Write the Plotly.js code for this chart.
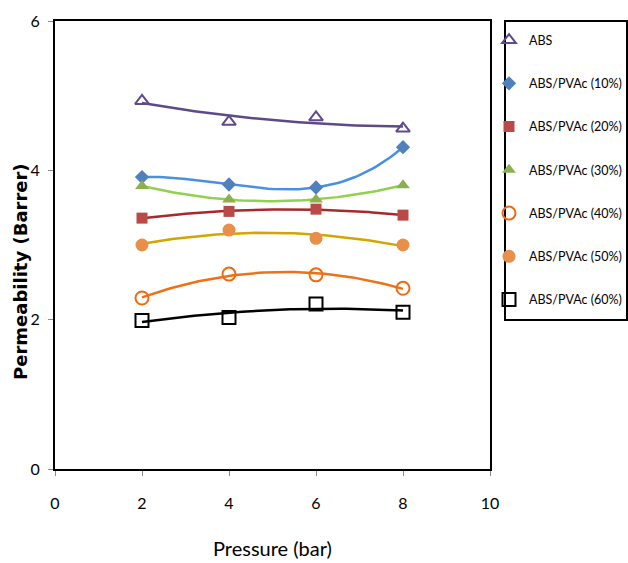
<!DOCTYPE html>
<html>
<head>
<meta charset="utf-8">
<script src="https://cdn.plot.ly/plotly-3.0.1.min.js"></script>
<style>html,body{margin:0;padding:0;background:#fff;}#chart{width:628px;height:563px;}</style>
</head>
<body>
<div id="chart"></div>
<script>
// ---- data ----
var pressure = [2, 4, 6, 8];
var seriesNames = ['ABS', 'ABS/PVAc (10%)', 'ABS/PVAc (20%)', 'ABS/PVAc (30%)', 'ABS/PVAc (40%)', 'ABS/PVAc (50%)', 'ABS/PVAc (60%)'];
var absVals   = [4.93, 4.65, 4.71, 4.56];
var pvac10    = [3.91, 3.81, 3.77, 4.31];
var pvac20    = [3.36, 3.45, 3.48, 3.40];
var pvac30    = [3.79, 3.61, 3.61, 3.80];
var pvac40    = [2.29, 2.61, 2.60, 2.42];
var pvac50    = [3.00, 3.20, 3.09, 3.00];
var pvac60    = [1.99, 2.03, 2.21, 2.10];
var xTicks = [0, 2, 4, 6, 8, 10];
var yTicks = [0, 2, 4, 6];

// ---- styles ----
var values = [absVals, pvac10, pvac20, pvac30, pvac40, pvac50, pvac60];
var trendOrder = [2, 3, 2, 2, 2, 2, 2];
var markerStyles = [
  {symbol: 'triangle-up-open', size: 12, color: '#604A8B', line: {width: 2, color: '#604A8B'}},
  {symbol: 'diamond', size: 11, color: '#4F81BD'},
  {symbol: 'square', size: 11, color: '#B94A48'},
  {symbol: 'triangle-up', size: 12, color: '#8DB04F'},
  {symbol: 'circle-open', size: 13, color: '#F06A10', line: {width: 2, color: '#F06A10'}},
  {symbol: 'circle', size: 13, color: '#E8904A'},
  {symbol: 'square-open', size: 13, color: '#000000', line: {width: 2, color: '#000000'}}
];
var lineColors = ['#5E4A87', '#4A90E0', '#A52A2A', '#92D050', '#F07018', '#D4A500', '#000000'];

// polynomial least squares trendline
function polyfit(xs, ys, n) {
  var m = n + 1, A = [], b = [];
  for (var i = 0; i < m; i++) {
    A.push([]); b.push(0);
    for (var j = 0; j < m; j++) {
      var s = 0;
      for (var k = 0; k < xs.length; k++) s += Math.pow(xs[k], i + j);
      A[i].push(s);
    }
    for (var k2 = 0; k2 < xs.length; k2++) b[i] += ys[k2] * Math.pow(xs[k2], i);
  }
  for (var c = 0; c < m; c++) {
    var p = c;
    for (var r = c + 1; r < m; r++) if (Math.abs(A[r][c]) > Math.abs(A[p][c])) p = r;
    var t = A[c]; A[c] = A[p]; A[p] = t; var tb = b[c]; b[c] = b[p]; b[p] = tb;
    for (var r2 = c + 1; r2 < m; r2++) {
      var f = A[r2][c] / A[c][c];
      for (var cc = c; cc < m; cc++) A[r2][cc] -= f * A[c][cc];
      b[r2] -= f * b[c];
    }
  }
  var coef = new Array(m);
  for (var r3 = m - 1; r3 >= 0; r3--) {
    var s2 = b[r3];
    for (var cc2 = r3 + 1; cc2 < m; cc2++) s2 -= A[r3][cc2] * coef[cc2];
    coef[r3] = s2 / A[r3][r3];
  }
  return coef;
}

var traces = [];
var xmin = pressure[0], xmax = pressure[pressure.length - 1];
values.forEach(function (ys, idx) {
  var coef = polyfit(pressure, ys, trendOrder[idx]);
  var tx = [], ty = [];
  for (var s = 0; s <= 60; s++) {
    var x = xmin + (xmax - xmin) * s / 60;
    var y = 0;
    for (var k = 0; k < coef.length; k++) y += coef[k] * Math.pow(x, k);
    tx.push(x); ty.push(y);
  }
  traces.push({x: tx, y: ty, mode: 'lines', line: {color: lineColors[idx], width: 2.5},
    showlegend: false, hoverinfo: 'skip'});
});
values.forEach(function (ys, idx) {
  traces.push({x: pressure, y: ys, mode: 'markers', name: seriesNames[idx],
    marker: markerStyles[idx], legendgroup: 'g' + idx});
});

var fontFam = 'Lato, "DejaVu Sans Condensed", sans-serif';
var layout = {
  width: 628, height: 563,
  margin: {l: 55, r: 138, t: 21, b: 94, autoexpand: false},
  paper_bgcolor: '#ffffff', plot_bgcolor: '#ffffff',
  font: {family: fontFam, size: 14, color: '#000'},
  xaxis: {
    range: [0, 10], tickvals: xTicks, ticktext: xTicks.map(String),
    showgrid: false, zeroline: false, showline: true, mirror: true,
    linecolor: '#000', linewidth: 2, ticks: 'outside', ticklen: 5, tickcolor: '#888',
    tickfont: {family: fontFam, size: 16, color: '#000'}, ticklabelstandoff: 14
  },
  yaxis: {
    range: [0, 6], tickvals: yTicks, ticktext: yTicks.map(String),
    showgrid: false, zeroline: false, showline: true, mirror: true,
    linecolor: '#000', linewidth: 2, ticks: 'outside', ticklen: 5, tickcolor: '#888',
    tickfont: {family: fontFam, size: 16, color: '#000'}, ticklabelstandoff: 5
  },
  annotations: [{
    text: '<b>Permeability (Barrer)</b>', xref: 'paper', yref: 'paper',
    x: -0.078, y: 0.44, xanchor: 'center', yanchor: 'middle', textangle: -90, showarrow: false,
    font: {family: '"DejaVu Sans", sans-serif', size: 18, color: '#000'}
  }, {
    text: 'Pressure (bar)', xref: 'paper', yref: 'paper',
    x: 0.5, y: -(548 - 469) / 448, xanchor: 'center', yanchor: 'middle', showarrow: false,
    font: {family: fontFam, size: 20, color: '#000'}
  }],
  shapes: [{
    type: 'rect', xref: 'paper', yref: 'paper',
    x0: (505 - 55) / 435, x1: (627 - 55) / 435, y0: (469 - 320) / 448, y1: (469 - 21) / 448,
    line: {color: '#000', width: 2}, fillcolor: 'rgba(0,0,0,0)'
  }],
  legend: {
    x: (489 - 55) / 435, y: 0.99, xanchor: 'left', yanchor: 'top',
    bgcolor: 'rgba(0,0,0,0)', borderwidth: 0,
    traceorder: 'grouped', tracegroupgap: 24,
    font: {family: fontFam, size: 12.5, color: '#000'}
  },
  showlegend: true
};

Plotly.newPlot('chart', traces, layout, {displayModeBar: false, staticPlot: true});
</script>
</body>
</html>
